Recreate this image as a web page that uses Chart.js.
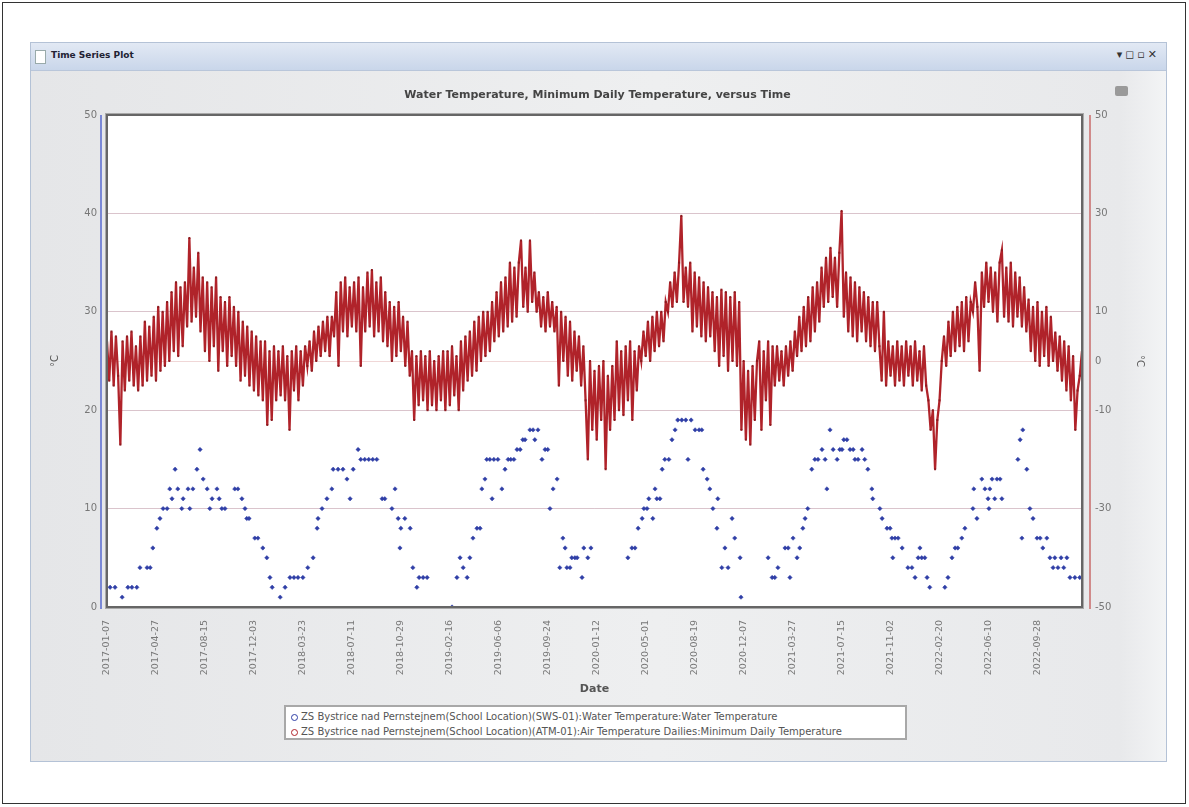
<!DOCTYPE html>
<html><head><meta charset="utf-8">
<script src="https://cdn.jsdelivr.net/npm/chart.js@4.4.1/dist/chart.umd.min.js"></script>
<style>
html,body{margin:0;padding:0;background:#fff;width:1189px;height:807px;overflow:hidden;font-family:"DejaVu Sans",sans-serif;}
#frame{position:absolute;left:2px;top:2px;width:1184px;height:802px;border:1px solid #333;box-sizing:border-box;}
#win{position:absolute;left:30px;top:42px;width:1137px;height:720px;border:1px solid #b4c2d6;box-sizing:border-box;background:linear-gradient(to right,#e5e6e8,#eeeff0 55%,#e8e9eb 96%,#f3f4f5);}
#bar{position:absolute;left:0;top:0;right:0;height:27px;background:linear-gradient(#e2e9f4,#c9d6ea);border-bottom:1px solid #b9c6da;}
#bar .ic{position:absolute;left:4px;top:7px;width:9px;height:12px;background:#fff;border:1px solid #9aa;}
#bar .tt{position:absolute;left:20px;top:7px;font:bold 9px "DejaVu Sans",sans-serif;color:#223;}
#bar .btn{position:absolute;right:6px;top:5px;font:bold 11px "DejaVu Sans",sans-serif;color:#333;letter-spacing:3px;}
#printer{position:absolute;left:1115px;top:86px;width:13px;height:10px;background:#9a9a9a;border-radius:2px;}
#c{position:absolute;left:0;top:0;z-index:2;}
#legend{position:absolute;left:284px;top:705px;width:623px;height:35px;box-sizing:border-box;background:#fff;border:2px solid #a8a8a8;z-index:3;font:10px "DejaVu Sans",sans-serif;color:#555;}
#legend .row{position:absolute;left:15px;white-space:nowrap;}
#legend .sym{position:absolute;left:-10px;top:3px;width:5px;height:5px;border:1.5px solid;border-radius:50%;}
</style></head>
<body>
<div id="frame"></div>
<div id="win"><div id="bar"><div class="ic"></div><div class="tt">Time Series Plot</div><div class="btn">▾◻▫✕</div></div></div>
<div id="printer"></div>
<canvas id="c" width="1189" height="807"></canvas>
<div id="legend"></div>
<script>
const chartTitle = 'Water Temperature, Minimum Daily Temperature, versus Time';
const seriesNames = [
  'ZS Bystrice nad Pernstejnem(School Location)(SWS-01):Water Temperature:Water Temperature',
  'ZS Bystrice nad Pernstejnem(School Location)(ATM-01):Air Temperature Dailies:Minimum Daily Temperature'
];
const tickLabels = ['2017-01-07','2017-04-27','2017-08-15','2017-12-03','2018-03-23','2018-07-11','2018-10-29','2019-02-16','2019-06-06','2019-09-24','2020-01-12','2020-05-01','2020-08-19','2020-12-07','2021-03-27','2021-07-15','2021-11-02','2022-02-20','2022-06-10','2022-09-28'];
const tickDays = [0,110,220,330,440,550,660,770,880,990,1100,1210,1320,1430,1540,1650,1760,1870,1980,2090];
const rightTicks = [50,30,10,0,-10,-30,-50];
const totalDays = 2190;
const airStepDays = 5;
// Minimum daily air temperature (right axis, °C), one reading every 5 days
const airTemps = [
 4,-4,6,-5,5,-3,-17,4,-6,5,-4,6,-5,3,-6,5,-5,8,-4,7,
 -3,9,-4,11,-2,10,-1,12,0,14,2,16,1,15,3,16,7,25,8,19,
 9,22,6,17,2,16,0,15,3,17,-2,13,2,12,-1,13,1,11,-1,10,
 -4,8,-3,7,-5,6,-6,5,-7,4,-8,4,-13,2,-12,3,-8,2,-7,3,
 -8,1,-14,2,-6,3,-8,2,-5,3,-1,4,-2,6,0,7,1,8,2,9,
 1,9,5,14,-1,16,6,17,5,15,7,16,6,17,-1,15,6,18,7,18.5,
 5,16,6,17,4,14,3,12,0,11,1,12,2,9,-1,8,-3,2,-12,1,
 -9,2,-8,1,-10,2,-9,0,-10,1,-8,2,-10,2,-9,3,-7,1,-10,4,
 -6,5,-4,6,-3,8,-2,9,0,10,1,10,2,12,4,14,5,16,6,17,
 7,20,8,19,9,20,24.5,11,19,10,24.5,12,18,10,14,7,13,6,14,7,
 12,6,11,-5,10,0,9,-3,8,-4,6,-2,5,-5,3,-8,-20,0,-14,-2,
 -16,-1,-12,0,-22,-3,-14,-1,-12,4,-10,2,-11,3,-8,4,-12,2,-6,3,
 0,6,1,8,0,9,2,10,3,10,4,12,10,16,11,18,12,20,29.5,12,
 19,11,20,6,18,7,17,5,16,4,15,5,14,2,13,-1,14.5,1,14,-2,
 13,0,14,-1,12,-14,0,-16,-2,-17,-1,-12,0,4,-14,2,-8,4,-13,3,
 -5,3,-4,2,-5,3,-3,4,-2,6,1,9,2,11,3,13,4,15,6,16,
 8,19,11,21,12,23,13,21,11,22,30.5,9,18,6,17,5,16,4,15,6,
 14,4,13,3,12,2,12,3,-4,10,-5,4,-3,3,-5,4,-4,3,-5,4,
 -3,3,-5,4,-4,2,-6,3,-5,-8,-14,-10,-22,-12,-8,0,5,-1,8,1,
 10,2,11,3,12,2,13,4,12,10,16,11,-2,18,11,20,12,19,10,18,
 8,20,22.5,9,19,8,20,7,18,9,17,7,15,6,12.5,2,11,0,12,-1,
 10,1,11,-1,9,0,5.8,-2,5,-4,4,-6,3,-8,1,-14,-6,-3,2
];
// Water temperature (left axis, °C): day offsets and readings
const waterDays = [
 7,18,34,47,56,67,74,90,97,103,112,119,126,135,141,146,153,159,168,171,
 182,186,193,202,209,216,225,231,236,247,252,258,265,287,294,303,310,314,319,332,
 339,350,359,366,371,389,400,411,420,429,440,451,463,472,474,483,494,505,508,519,
 530,539,546,553,564,570,579,588,597,606,618,624,640,647,654,658,660,669,681,687,
 696,701,710,719,
 775,786,793,800,809,815,822,831,838,842,849,853,860,865,869,878,887,894,901,907,
 914,921,928,934,939,950,957,961,968,977,984,990,995,1002,1011,1017,1024,1029,1033,1040,
 1044,1051,1056,1067,1071,1080,1087,
 1170,1179,1186,1193,1202,1206,1213,1217,1226,1231,1235,1242,1247,1253,1262,1269,1276,1282,1291,1300,
 1305,1312,1321,1330,1336,1339,1348,1354,1361,1370,1372,1381,1388,1395,1404,1410,1422,1424,
 1485,1494,1500,1507,1523,1530,1534,1541,1550,1556,1563,1568,1574,1583,1590,1597,1606,1613,1617,1624,
 1631,1640,1646,1651,1655,1662,1669,1676,1680,1687,1696,1702,1709,1718,1720,1736,1741,1752,1759,1763,
 1765,1770,1777,1786,1799,1808,1815,1822,1826,1830,1837,1842,1848,1882,1889,1898,1905,1911,1920,1927,
 1945,1947,1954,1965,1972,1979,1981,1983,1988,1994,1999,2006,2010,2046,2051,2055,2057,2066,2073,2080,
 2089,2096,2102,2111,2118,2125,2129,2136,2143,2149,2156,2163,2174,2185
];
const waterTemps = [
 2,2,1,2,2,2,4,4,4,6,8,9,10,10,12,11,14,12,10,11,
 12,10,12,14,16,13,12,10,11,12,11,10,10,12,12,11,10,9,9,7,
 7,6,5,3,2,1,2,3,3,3,3,4,5,8,9,10,11,12,14,14,
 14,13,11,14,16,15,15,15,15,15,11,11,10,12,9,6,8,9,8,4,
 2,3,3,3,
 0,3,5,4,3,5,7,8,8,12,13,15,15,11,15,15,12,14,15,15,
 15,16,16,17,17,18,18,17,18,15,16,16,10,12,13,4,7,6,4,4,
 5,5,5,3,6,5,6,
 5,6,6,8,9,10,10,11,9,12,11,11,14,15,15,17,18,19,19,19,
 15,19,18,18,18,14,13,12,10,8,11,4,6,4,9,7,5,1,
 5,3,3,4,6,6,3,7,5,6,8,9,10,14,15,15,16,15,12,18,
 16,15,16,16,17,17,16,16,15,15,16,15,14,12,11,10,9,8,8,7,
 5,7,7,6,4,4,3,5,6,5,5,3,2,2,3,5,6,6,7,8,
 10,12,9,13,12,11,10,12,13,11,13,13,11,15,17,7,18,14,10,9,
 7,7,6,7,5,4,5,4,5,4,5,3,3,3
];

const blueCol = '#2f3ea6', redCol = '#b0232a';
const FONT = '"DejaVu Sans", sans-serif';

const frame = {
  id: 'frame',
  beforeDraw(chart) {
    const {ctx, chartArea: a} = chart;
    ctx.save(); ctx.fillStyle = '#fff';
    ctx.fillRect(a.left, a.top, a.right - a.left, a.bottom - a.top);
    ctx.restore();
  },
  afterDraw(chart) {
    const {ctx, chartArea: a} = chart;
    ctx.save();
    ctx.strokeStyle = '#a9a9a9'; ctx.lineWidth = 1;
    ctx.strokeRect(a.left - 1.5, a.top - 1.5, a.right - a.left + 3, a.bottom - a.top + 3);
    ctx.strokeStyle = '#666'; ctx.lineWidth = 2;
    ctx.strokeRect(a.left, a.top, a.right - a.left, a.bottom - a.top);
    ctx.strokeStyle = '#7a88d6'; ctx.lineWidth = 2;
    ctx.beginPath(); ctx.moveTo(a.left - 6, a.top); ctx.lineTo(a.left - 6, a.bottom + 2); ctx.stroke();
    ctx.strokeStyle = '#c96a6a'; ctx.lineWidth = 1.5;
    ctx.beginPath(); ctx.moveTo(a.right + 8, a.top); ctx.lineTo(a.right + 8, a.bottom + 2); ctx.stroke();
    ctx.restore();
  }
};

new Chart(document.getElementById('c'), {
  data: {
    datasets: [
      {
        type: 'scatter', label: seriesNames[0], yAxisID: 'y',
        data: waterDays.map((d, i) => ({x: d, y: waterTemps[i]})),
        pointStyle: 'rectRot', pointRadius: 2.2, backgroundColor: blueCol, borderColor: blueCol, borderWidth: 0.5,
        order: 2
      },
      {
        type: 'line', label: seriesNames[1], yAxisID: 'y2',
        data: airTemps.map((v, i) => ({x: i * airStepDays, y: v})),
        borderColor: redCol, borderWidth: 2.3, tension: 0,
        pointStyle: 'rect', pointRadius: 1.4, pointBackgroundColor: '#8c1a1f', pointBorderWidth: 0,
        order: 1
      }
    ]
  },
  options: {
    responsive: false, animation: false, events: [],
    layout: {padding: {left: 45, right: 39, top: 0, bottom: 107}},
    plugins: {
      legend: {display: false}, tooltip: {enabled: false},
      title: {display: true, text: chartTitle, color: '#444',
        font: {family: FONT, size: 11, weight: 'bold'}, padding: {top: 89, bottom: 12.8}}
    },
    scales: {
      x: {
        type: 'linear', position: 'bottom', min: 0, max: totalDays,
        grid: {display: false}, border: {display: false},
        afterBuildTicks: s => { s.ticks = tickDays.map(v => ({value: v})); },
        afterFit: s => { s.height = 93; },
        ticks: {autoSkip: false, minRotation: 90, maxRotation: 90, padding: 5, color: '#777',
          font: {family: FONT, size: 9.5},
          callback: (v) => { const i = tickDays.indexOf(v); return i >= 0 ? tickLabels[i] : ''; }},
        title: {display: true, text: 'Date', color: '#555', font: {family: FONT, size: 11, weight: 'bold'}, padding: {top: 4, bottom: 4}}
      },
      y: {
        position: 'left', min: 0, max: 50,
        afterFit: s => { s.width = 62; },
        grid: {color: 'rgba(175,185,215,0.55)', drawTicks: false}, border: {display: false},
        ticks: {stepSize: 10, padding: 10, color: '#777', font: {family: FONT, size: 10}},
        title: {display: true, text: '°C', color: '#555', font: {family: FONT, size: 10}, padding: {top: 4, bottom: 4}}
      },
      y2: {
        position: 'right', min: -50, max: 50,
        afterBuildTicks: s => { s.ticks = rightTicks.map(v => ({value: v})); },
        afterFit: s => { s.width = 68; },
        grid: {color: 'rgba(225,175,175,0.5)', drawTicks: false}, border: {display: false},
        ticks: {padding: 13, color: '#777', font: {family: FONT, size: 10}},
        title: {display: true, text: '°C', color: '#555', font: {family: FONT, size: 10}, padding: {top: 4, bottom: 4}}
      }
    }
  },
  plugins: [frame]
});

const lg = document.getElementById('legend');
[[seriesNames[0], blueCol, 4], [seriesNames[1], redCol, 19]].forEach(([t, c, top]) => {
  const r = document.createElement('div'); r.className = 'row'; r.style.top = top + 'px';
  const s = document.createElement('span'); s.className = 'sym'; s.style.borderColor = c;
  r.appendChild(s); r.appendChild(document.createTextNode(t)); lg.appendChild(r);
});
</script>
</body></html>
